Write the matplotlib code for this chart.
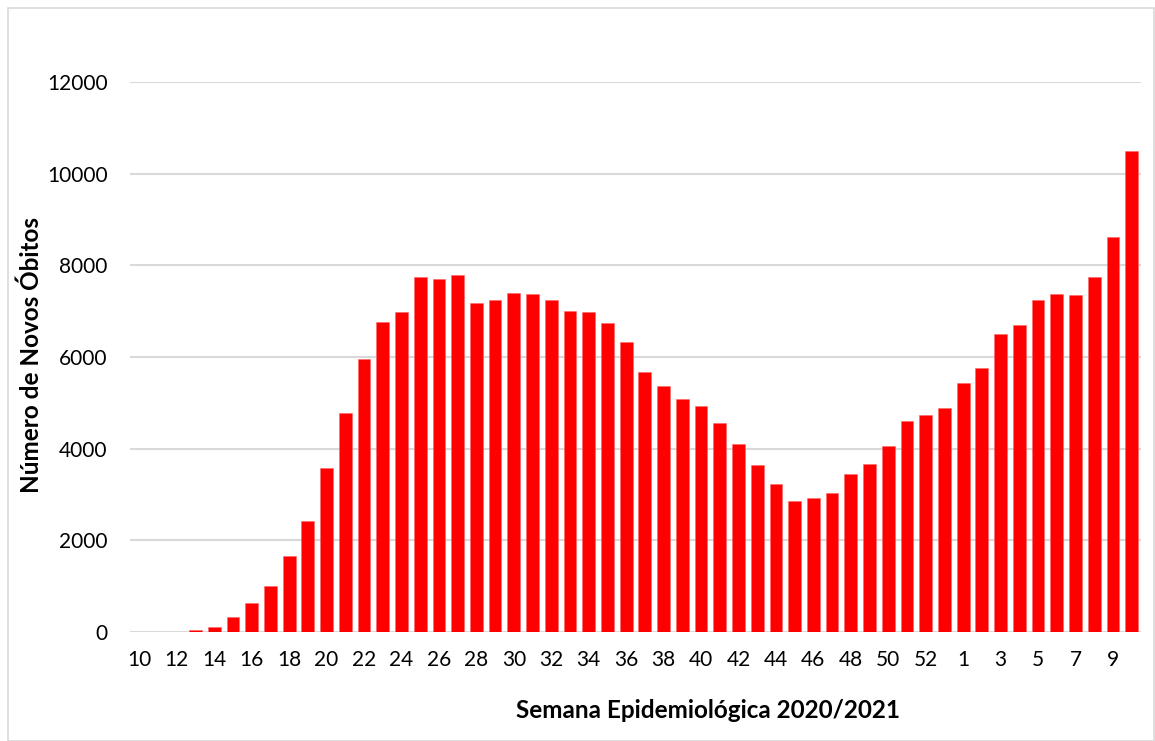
import matplotlib
matplotlib.use("Agg")
import matplotlib.pyplot as plt
from matplotlib.patches import Rectangle

# semanas epidemiologicas 10..53 de 2020 e 1..10 de 2021
weeks = [str(w) for w in range(10, 54)] + [str(w) for w in range(1, 11)]
deaths = [0, 0, 5, 35, 100, 320, 625, 1010, 1660, 2415,
          3580, 4780, 5960, 6770, 6975, 7750, 7695, 7790, 7172, 7244,
          7404, 7375, 7244, 6997, 6975, 6735, 6335, 5666, 5368, 5077,
          4931, 4556, 4095, 3644, 3236, 2860, 2924, 3040, 3440, 3658,
          4051, 4597, 4728, 4880, 5433, 5753, 6495, 6691, 7244, 7375,
          7353, 7746, 8612, 10488]
yticks = [0, 2000, 4000, 6000, 8000, 10000, 12000]

plt.rcParams['font.family'] = ['Lato', 'DejaVu Sans']

fig = plt.figure(figsize=(11.55, 7.41), dpi=100)
ax = fig.add_axes([130/1155, 109/741, 1011/1155, 550/741])

x = list(range(len(weeks)))
ax.bar(x, deaths, width=0.68, color='#ff0000', edgecolor='#ff6666', linewidth=0.4, zorder=3)

ax.set_xlim(-0.5, len(weeks) - 0.5)
ax.set_ylim(0, 12000)
ax.set_yticks(yticks)
ax.set_yticklabels([str(v) for v in yticks], fontsize=15)
ax.set_xticks(x[::2])
ax.set_xticklabels(weeks[::2], fontsize=15)
ax.tick_params(axis='both', length=0, colors='black')
ax.tick_params(axis='x', pad=13)
ax.tick_params(axis='y', pad=16)

for v in yticks:
    ax.axhline(v, color='#d9d9d9', linewidth=1.5, zorder=1)
for s in ax.spines.values():
    s.set_visible(False)

fig.text(31/1155, 1 - 355/741, 'Número de Novos Óbitos', rotation=90,
         ha='center', va='center', fontsize=17.5, fontweight='bold')
fig.text(708/1155, 1 - 711/741, 'Semana Epidemiológica 2020/2021',
         ha='center', va='center', fontsize=17.5, fontweight='bold')

# borda da area do grafico
fig.patches.append(Rectangle((8/1155, 0), 1 - 9/1155, 1 - 8/741, transform=fig.transFigure,
                             fill=False, edgecolor='#d9d9d9', linewidth=1.2))

fig.savefig('out.png', dpi=100)
